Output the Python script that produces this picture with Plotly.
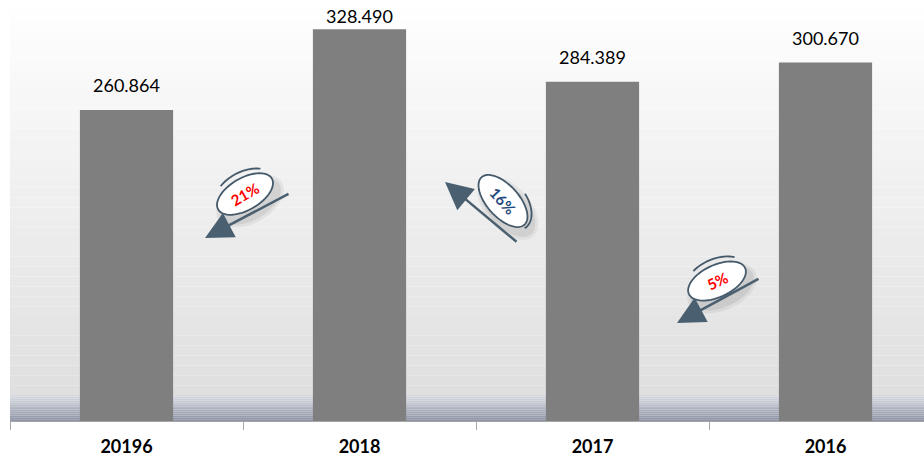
import numpy as np
import plotly.graph_objects as go

categories = ["20196", "2018", "2017", "2016"]
values = [260.864, 328.490, 284.389, 300.670]
value_labels = ["260.864", "328.490", "284.389", "300.670"]
pct_labels = ["21%", "16%", "5%"]
pct_colors = ["#ff0000", "#1f497d", "#ff0000"]

W, H = 924, 457
L, T, B = 10, 0, 36
PW, PH = W - L, H - T - B  # plot area in px
YMAX = 353


def px(x):
    return (x - L) / PW


def py(y):
    return (T + PH - y) / PH


# value label positions: a fixed pixel gap above each bar, clamped at the top
units_per_px = YMAX / PH
label_y = [min(v + 22 * units_per_px, YMAX - 18 * units_per_px) for v in values]

fig = go.Figure()
fig.add_trace(go.Bar(
    x=categories, y=values,
    marker=dict(color="#7f7f7f", line=dict(width=0)), width=0.4,
    hoverinfo="skip",
))
fig.add_trace(go.Scatter(
    x=categories, y=label_y, mode="text", text=value_labels,
    textposition="middle center", cliponaxis=False, hoverinfo="skip",
    textfont=dict(family="Lato", size=18, color="#000000"),
))

shapes = []
# background gradient (white -> light gray)
n = 40
y_floor = 26 / PH
for i in range(n):
    f0 = i / n
    f1 = (i + 1) / n
    ya = y_floor + (1 - y_floor) * f0
    yb = y_floor + (1 - y_floor) * f1
    t = 1 - (f0 + f1) / 2
    c = int(round(255 - 32 * t))
    shapes.append(dict(type="rect", xref="paper", yref="paper", x0=0, x1=1, y0=ya, y1=yb,
                       fillcolor=f"rgb({c},{c},{c})", line=dict(width=0), layer="below"))
# floor band gradient (light gray -> blue gray)
m = 14
for i in range(m):
    ya = y_floor * i / m
    yb = y_floor * (i + 1) / m
    t = 1 - (i + 0.5) / m  # 0 top, 1 bottom
    r = int(round(218 - 80 * t))
    g = int(round(220 - 76 * t))
    b = int(round(226 - 64 * t))
    shapes.append(dict(type="rect", xref="paper", yref="paper", x0=0, x1=1, y0=ya, y1=yb,
                       fillcolor=f"rgb({r},{g},{b})", line=dict(width=0), layer="below"))


def ellipse_path(cx, cy, a, b, ang_deg, t0=0.0, t1=2 * np.pi, closed=True, npts=60):
    ang = np.radians(ang_deg)
    ts = np.linspace(t0, t1, npts)
    xs = cx + a * np.cos(ts) * np.cos(ang) - b * np.sin(ts) * np.sin(ang)
    ys = cy + a * np.cos(ts) * np.sin(ang) + b * np.sin(ts) * np.cos(ang)
    pts = [f"{px(x):.5f},{py(y):.5f}" for x, y in zip(xs, ys)]
    p = "M " + " L ".join(pts)
    return p + (" Z" if closed else "")


# badge specs: center px, semi-axes, rotation (screen, deg clockwise), arc range
badges = [
    dict(cx=245, cy=194, a=31, b=16, ang=-30, arc=(-2.1, -0.7)),
    dict(cx=503, cy=201, a=32, b=16, ang=48, arc=(-1.3, 0.1)),
    dict(cx=717, cy=281, a=31, b=16, ang=-25, arc=(-2.1, -0.7)),
]
for bd in badges:
    for k, alpha in [(6, 0.05), (3, 0.07)]:
        shapes.append(dict(type="path", xref="paper", yref="paper",
                           path=ellipse_path(bd["cx"] + 5, bd["cy"] + 7, bd["a"] + k, bd["b"] + k, bd["ang"]),
                           fillcolor=f"rgba(0,0,0,{alpha})", line=dict(width=0)))
    shapes.append(dict(type="path", xref="paper", yref="paper",
                       path=ellipse_path(bd["cx"], bd["cy"], bd["a"], bd["b"], bd["ang"]),
                       fillcolor="#ffffff", line=dict(color="#44596a", width=1.8)))
    shapes.append(dict(type="path", xref="paper", yref="paper",
                       path=ellipse_path(bd["cx"], bd["cy"], bd["a"] + 3, bd["b"] + 6, bd["ang"],
                                         bd["arc"][0], bd["arc"][1], closed=False, npts=25),
                       fillcolor="rgba(0,0,0,0)", line=dict(color="#44596a", width=1.8)))

annotations = []
# arrows: head, tail in px
arrows = [((205, 238), (290, 193)), ((445, 182), (518, 243)), ((677, 323), (760, 278))]
for (hx, hy), (tx, ty) in arrows:
    annotations.append(dict(x=px(hx), y=py(hy), xref="paper", yref="paper",
                            ax=tx - hx, ay=ty - hy, axref="pixel", ayref="pixel",
                            text="", showarrow=True, arrowhead=2, arrowsize=2.2,
                            arrowwidth=2.5, arrowcolor="#4a6070"))
for bd, lab, col in zip(badges, pct_labels, pct_colors):
    annotations.append(dict(x=px(bd["cx"]), y=py(bd["cy"]), xref="paper", yref="paper",
                            xanchor="center", yanchor="middle",
                            text=f"<b>{lab}</b>", showarrow=False, textangle=bd["ang"],
                            font=dict(family="Lato", size=15, color=col)))

fig.update_layout(
    width=W, height=H, margin=dict(l=L, r=0, t=T, b=B),
    paper_bgcolor="#ffffff", plot_bgcolor="rgba(0,0,0,0)",
    showlegend=False, shapes=shapes, annotations=annotations, bargap=0.6,
    xaxis=dict(range=[-0.5, 3.5 - 18 / 233], showgrid=False, zeroline=False,
               showline=True, linecolor="#a6a6a6", linewidth=1,
               ticks="outside", tickson="boundaries", ticklen=8, tickcolor="#a6a6a6",
               ticklabelstandoff=9,
               tickfont=dict(family="Lato", size=18, color="#000000", weight="bold"),
               fixedrange=True),
    yaxis=dict(range=[0, YMAX], visible=False, showgrid=False, zeroline=False, fixedrange=True),
)

fig.write_html("out.html", config={"displayModeBar": False},
               post_script="document.body.style.margin='0';")
